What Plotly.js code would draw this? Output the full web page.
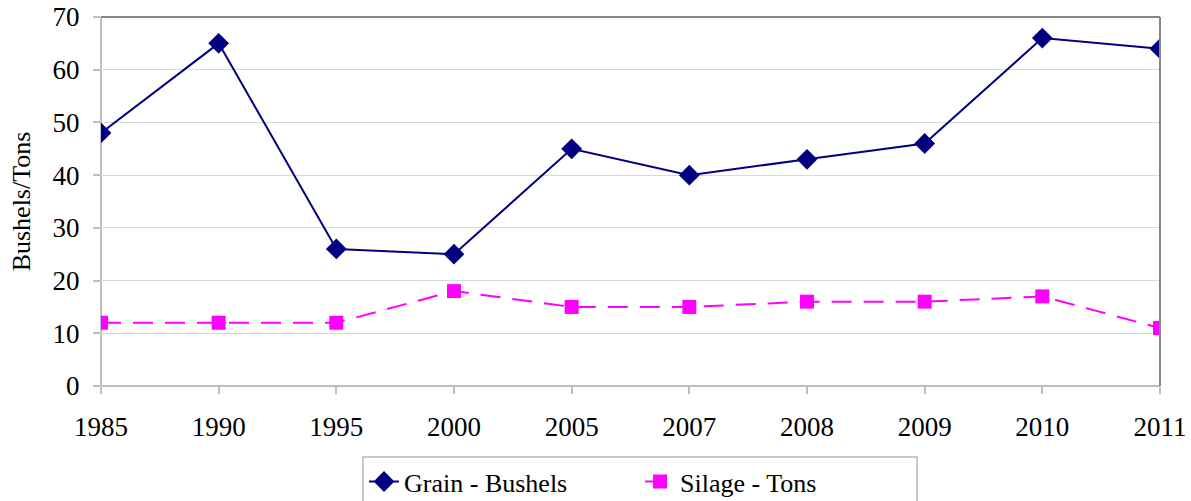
<!DOCTYPE html>
<html><head><meta charset="utf-8">
<script src="https://cdn.plot.ly/plotly-3.0.1.min.js"></script>
<style>body{margin:0;padding:0;background:#fff}#chart{width:1191px;height:501px}</style>
</head><body><div id="chart"></div>
<script>
const years = ['1985','1990','1995','2000','2005','2007','2008','2009','2010','2011'];
const grainBushels = [48, 65, 26, 25, 45, 40, 43, 46, 66, 64];
const silageTons = [12, 12, 12, 18, 15, 15, 16, 16, 17, 11];
const yTicks = [0, 10, 20, 30, 40, 50, 60, 70];

const fam = 'Liberation Serif';
function mkFont(size) { return {family: fam, size: size, color: '#000000'}; }

const traces = [
  {x: years, y: grainBushels, name: 'Grain - Bushels', type: 'scatter', mode: 'lines+markers',
   line: {color: '#000080', width: 2}, marker: {symbol: 'diamond', size: 16, color: '#000080'}},
  {x: years, y: silageTons, name: 'Silage - Tons', type: 'scatter', mode: 'lines+markers',
   line: {color: '#ff00ff', width: 2, dash: '20px,12px'}, marker: {symbol: 'square', size: 14, color: '#ff00ff'}}
];

const layout = {
  width: 1191, height: 501,
  margin: {l: 101, r: 31, t: 17, b: 115, autoexpand: false},
  paper_bgcolor: '#fff', plot_bgcolor: '#fff',
  font: mkFont(27),
  showlegend: true,
  legend: {orientation: 'h', x: 0.509, xanchor: 'center', y: -0.19, yanchor: 'top',
           bordercolor: '#c8c8c8', borderwidth: 2, font: mkFont(26), entrywidth: 231},
  xaxis: {type: 'category', range: [0, 9], showgrid: false, zeroline: false,
          showline: false, ticks: 'outside', ticklen: 7, tickwidth: 2, tickcolor: '#bfbfbf',
          tickfont: mkFont(27), ticklabelstandoff: 10, fixedrange: true},
  yaxis: {range: [0, 70], tickvals: yTicks, ticktext: yTicks.map(String),
          showgrid: true, gridcolor: '#d9d9d9', gridwidth: 1, zeroline: false,
          showline: false, ticks: 'outside', ticklen: 7, tickwidth: 2, tickcolor: '#bfbfbf',
          tickfont: mkFont(27), ticklabelstandoff: 8,
          title: {text: 'Bushels/Tons', font: mkFont(26), standoff: 14}},
  shapes: [
    {type: 'line', xref: 'paper', yref: 'paper', x0: 0, x1: 1, y0: 1, y1: 1, line: {color: '#868686', width: 2}},
    {type: 'line', xref: 'paper', yref: 'paper', x0: 1, x1: 1, y0: 0, y1: 1, line: {color: '#868686', width: 2}},
    {type: 'line', xref: 'paper', yref: 'paper', x0: 0, x1: 0, y0: 0, y1: 1, line: {color: '#bfbfbf', width: 2}, layer: 'below'},
    {type: 'line', xref: 'paper', yref: 'paper', x0: 0, x1: 1, y0: 0, y1: 0, line: {color: '#bfbfbf', width: 2}, layer: 'below'}
  ]
};

Plotly.newPlot('chart', traces, layout, {displayModeBar: false, staticPlot: true});
</script></body></html>
